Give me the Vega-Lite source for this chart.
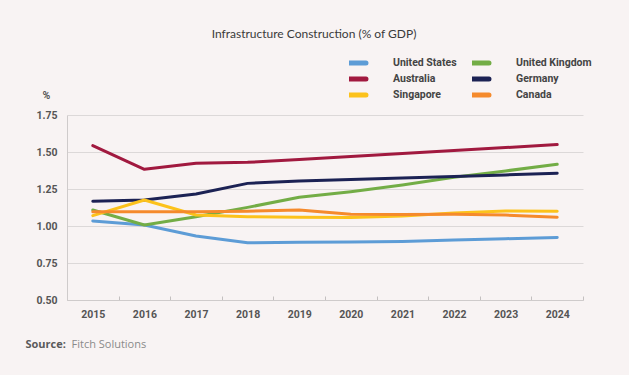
{
  "$schema": "https://vega.github.io/schema/vega-lite/v6.json",
  "width": 516,
  "height": 185,
  "autosize": {"type": "none"},
  "padding": {"left": 67, "top": 115, "right": 46, "bottom": 75},
  "background": "#f8f3f3",
  "title": {
    "text": "Infrastructure Construction (% of GDP)",
    "font": "Lato",
    "fontSize": 12,
    "fontWeight": "normal",
    "color": "#3a3a3a",
    "anchor": "middle",
    "frame": "group",
    "dx": -11,
    "offset": 14
  },
  "config": {
    "view": {"stroke": null},
    "axis": {
      "labelFont": "Roboto",
      "labelFontWeight": "bold",
      "labelFontSize": 10.5,
      "labelColor": "#555555",
      "gridColor": "#dcd8d8",
      "domainColor": "#cfcbcb",
      "tickColor": "#c4c0c0"
    }
  },
  "data": {
    "values": [
      {"year": 2015, "country": "United States", "value": 1.034},
      {"year": 2016, "country": "United States", "value": 1.007},
      {"year": 2017, "country": "United States", "value": 0.932},
      {"year": 2018, "country": "United States", "value": 0.887},
      {"year": 2019, "country": "United States", "value": 0.89},
      {"year": 2020, "country": "United States", "value": 0.892},
      {"year": 2021, "country": "United States", "value": 0.896},
      {"year": 2022, "country": "United States", "value": 0.905},
      {"year": 2023, "country": "United States", "value": 0.914},
      {"year": 2024, "country": "United States", "value": 0.923},
      {"year": 2015, "country": "United Kingdom", "value": 1.108},
      {"year": 2016, "country": "United Kingdom", "value": 1.007},
      {"year": 2017, "country": "United Kingdom", "value": 1.063},
      {"year": 2018, "country": "United Kingdom", "value": 1.126},
      {"year": 2019, "country": "United Kingdom", "value": 1.194},
      {"year": 2020, "country": "United Kingdom", "value": 1.232},
      {"year": 2021, "country": "United Kingdom", "value": 1.277},
      {"year": 2022, "country": "United Kingdom", "value": 1.329},
      {"year": 2023, "country": "United Kingdom", "value": 1.372},
      {"year": 2024, "country": "United Kingdom", "value": 1.417},
      {"year": 2015, "country": "Australia", "value": 1.543},
      {"year": 2016, "country": "Australia", "value": 1.383},
      {"year": 2017, "country": "Australia", "value": 1.424},
      {"year": 2018, "country": "Australia", "value": 1.43},
      {"year": 2019, "country": "Australia", "value": 1.45},
      {"year": 2020, "country": "Australia", "value": 1.47},
      {"year": 2021, "country": "Australia", "value": 1.49},
      {"year": 2022, "country": "Australia", "value": 1.51},
      {"year": 2023, "country": "Australia", "value": 1.53},
      {"year": 2024, "country": "Australia", "value": 1.55},
      {"year": 2015, "country": "Germany", "value": 1.167},
      {"year": 2016, "country": "Germany", "value": 1.176},
      {"year": 2017, "country": "Germany", "value": 1.216},
      {"year": 2018, "country": "Germany", "value": 1.288},
      {"year": 2019, "country": "Germany", "value": 1.304},
      {"year": 2020, "country": "Germany", "value": 1.315},
      {"year": 2021, "country": "Germany", "value": 1.325},
      {"year": 2022, "country": "Germany", "value": 1.335},
      {"year": 2023, "country": "Germany", "value": 1.345},
      {"year": 2024, "country": "Germany", "value": 1.356},
      {"year": 2015, "country": "Singapore", "value": 1.07},
      {"year": 2016, "country": "Singapore", "value": 1.176},
      {"year": 2017, "country": "Singapore", "value": 1.074},
      {"year": 2018, "country": "Singapore", "value": 1.063},
      {"year": 2019, "country": "Singapore", "value": 1.059},
      {"year": 2020, "country": "Singapore", "value": 1.057},
      {"year": 2021, "country": "Singapore", "value": 1.068},
      {"year": 2022, "country": "Singapore", "value": 1.088},
      {"year": 2023, "country": "Singapore", "value": 1.101},
      {"year": 2024, "country": "Singapore", "value": 1.1},
      {"year": 2015, "country": "Canada", "value": 1.097},
      {"year": 2016, "country": "Canada", "value": 1.097},
      {"year": 2017, "country": "Canada", "value": 1.097},
      {"year": 2018, "country": "Canada", "value": 1.1},
      {"year": 2019, "country": "Canada", "value": 1.108},
      {"year": 2020, "country": "Canada", "value": 1.079},
      {"year": 2021, "country": "Canada", "value": 1.077},
      {"year": 2022, "country": "Canada", "value": 1.079},
      {"year": 2023, "country": "Canada", "value": 1.074},
      {"year": 2024, "country": "Canada", "value": 1.059}
    ]
  },
  "resolve": {"axis": {"x": "independent"}},
  "layer": [
    {
      "mark": {"type": "line", "strokeWidth": 3, "strokeCap": "round", "strokeJoin": "round"},
      "encoding": {
        "x": {
          "field": "year",
          "type": "ordinal",
          "bandPosition": 0.5,
          "scale": {"type": "band", "paddingInner": 0, "paddingOuter": 0},
          "axis": {
            "orient": "bottom",
            "labelAngle": 0,
            "tickBand": "extent",
            "tickSize": -4,
            "labelPadding": 13,
            "title": "Source:",
            "titleFont": "Open Sans",
            "titleFontSize": 11,
            "titleFontWeight": "bold",
            "titleColor": "#5a5a5a",
            "titleX": -42,
            "titleY": 47,
            "titleAlign": "left",
            "titleAnchor": null,
            "titleBaseline": "alphabetic"
          }
        },
        "y": {
          "field": "value",
          "type": "quantitative",
          "scale": {"domain": [0.5, 1.75], "nice": false, "zero": false},
          "axis": {
            "values": [0.5, 0.75, 1.0, 1.25, 1.5, 1.75],
            "format": ".2f",
            "ticks": false,
            "domain": true,
            "labelOverlap": false,
            "labelPadding": 10,
            "title": "%",
            "titleAngle": 0,
            "titleX": -25,
            "titleY": -17,
            "titleAlign": "left",
            "titleBaseline": "alphabetic",
            "titleFont": "Roboto",
            "titleFontSize": 10.5,
            "titleFontWeight": "bold",
            "titleColor": "#555555"
          }
        },
        "color": {
          "field": "country",
          "type": "nominal",
          "scale": {
            "domain": ["United States", "Australia", "Singapore", "United Kingdom", "Germany", "Canada"],
            "range": ["#5d9cd6", "#a1193f", "#fcc21b", "#73ad46", "#1c2254", "#f58a2c"]
          },
          "legend": {
            "title": null,
            "orient": "none",
            "legendX": 282,
            "legendY": -60,
            "columns": 2,
            "columnPadding": 15,
            "rowPadding": 0,
            "clipHeight": 16,
            "symbolType": "M-3.45,0H3.45",
            "symbolSize": 121,
            "symbolStrokeWidth": 5,
            "symbolOffset": -10,
            "labelOffset": 38,
            "labelFont": "Roboto",
            "labelFontWeight": "bold",
            "labelFontSize": 10.5,
            "labelColor": "#444444",
            "encode": {"symbols": {"update": {"strokeCap": {"value": "round"}}}}
          }
        }
      }
    },
    {
      "mark": {"type": "point", "opacity": 0},
      "encoding": {
        "x": {
          "field": "year",
          "type": "ordinal",
          "axis": {
            "orient": "bottom",
            "labels": false,
            "ticks": false,
            "domain": false,
            "grid": false,
            "title": "Fitch Solutions",
            "titleFont": "Open Sans",
            "titleFontSize": 11,
            "titleFontWeight": "normal",
            "titleColor": "#8a8a8a",
            "titleX": 4,
            "titleY": 47,
            "titleAlign": "left",
            "titleAnchor": null,
            "titleBaseline": "alphabetic"
          }
        }
      }
    }
  ]
}
